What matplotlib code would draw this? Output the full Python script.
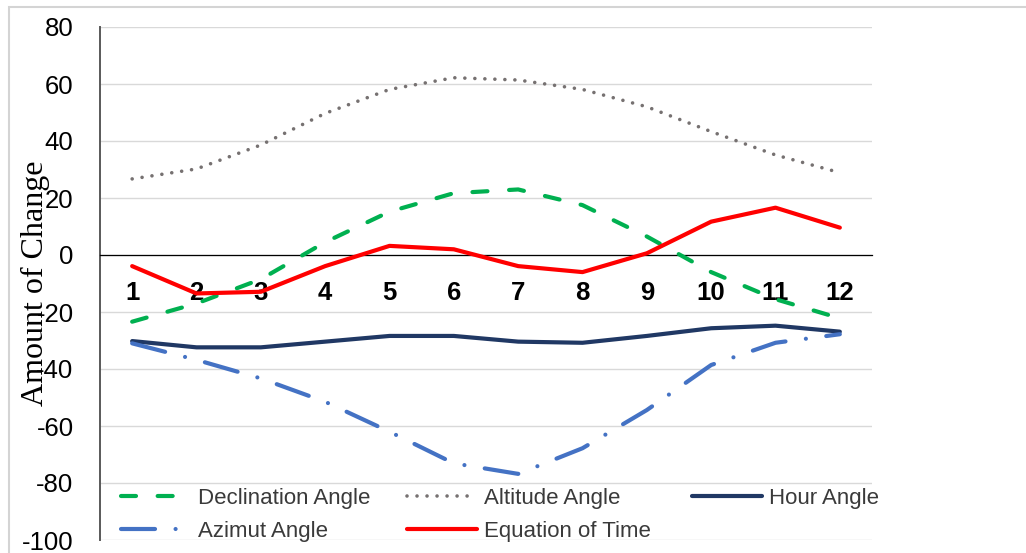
import numpy as np
import matplotlib
matplotlib.use("Agg")
import matplotlib.pyplot as plt
from matplotlib.patches import Rectangle

# Monthly values (1..12)
months = ["1", "2", "3", "4", "5", "6", "7", "8", "9", "10", "11", "12"]
declination = [-23.4, -17.0, -8.5, 4.5, 15.2, 21.7, 23.0, 17.5, 6.5, -6.0, -15.5, -22.2]
altitude = [26.7, 30.2, 38.6, 49.7, 58.1, 62.2, 61.4, 58.1, 52.0, 43.3, 35.1, 28.9]
hour_angle = [-30.2, -32.4, -32.4, -30.4, -28.4, -28.4, -30.4, -30.8, -28.4, -25.7, -24.8, -26.9]
azimut = [-31.0, -36.8, -43.3, -51.5, -62.0, -73.1, -76.8, -67.8, -54.4, -38.6, -30.8, -27.8]
equation_of_time = [-3.9, -13.5, -12.9, -3.9, 3.2, 2.0, -3.9, -6.0, 0.6, 11.7, 16.6, 9.6]

plt.rcParams["lines.scale_dashes"] = False
plt.rcParams["axes.unicode_minus"] = False
plt.rcParams["font.family"] = ["Liberation Sans", "DejaVu Sans"]

W, H = 1026, 553
fig = plt.figure(figsize=(W / 100, H / 100), dpi=100)
fig.patch.set_facecolor("white")

# outer chart frame (top/left edges visible)
fig.patches.append(Rectangle((9 / W, -0.2), 1.2, 1.2 - 7 / H,
                             transform=fig.transFigure, fill=False,
                             edgecolor="#d4d4d4", lw=1.5))

L, R, T, B = 100, 872, 27, 540
ax = fig.add_axes([L / W, 1 - B / H, (R - L) / W, (B - T) / H])

x = np.arange(1, len(months) + 1)

series = [
    ("Declination Angle", declination, "#00b050", (0, (10.8, 15.6)), 3.0),
    ("Altitude Angle", altitude, "#767171", (0, (0.01, 7.2)), 2.6),
    ("Hour Angle", hour_angle, "#203864", "solid", 3.0),
    ("Azimut Angle", azimut, "#4472c4", (0, (24.5, 14.8, 0.01, 14.8)), 3.0),
    ("Equation of Time", equation_of_time, "#ff0000", "solid", 3.0),
]

handles = {}
for name, vals, color, ls, lw in series:
    line, = ax.plot(x, vals, color=color, lw=lw, linestyle=ls,
                    solid_capstyle="round", dash_capstyle="round",
                    solid_joinstyle="round", dash_joinstyle="round",
                    zorder=3)
    handles[name] = line

ax.set_xlim(0.5, 12.5)
ax.set_ylim(-100, 80)

ax.grid(axis="y", color="#d9d9d9", lw=1.0, zorder=0)
ax.set_axisbelow(True)
for s in ("top", "right"):
    ax.spines[s].set_visible(False)
ax.spines["left"].set_color("#595959")
ax.spines["left"].set_linewidth(1.4)
ax.spines["bottom"].set_position(("data", 0))
ax.spines["bottom"].set_color("black")
ax.spines["bottom"].set_linewidth(0.9)

ax.set_yticks(np.arange(-100, 81, 20))
ax.set_xticks(x)
ax.set_xticklabels(months, fontsize=18.5, fontweight="bold", color="black")
ax.tick_params(axis="y", length=0, pad=19, labelsize=18.5, labelcolor="black")
ax.tick_params(axis="x", length=0, pad=19)

fig.text(35 / W, 1 - 283 / H, "Amount of Change", rotation=90,
         ha="center", va="center", fontsize=23,
         family=["Liberation Serif", "DejaVu Serif"], color="black")

# legend laid out in three equal-width columns
columns = [["Declination Angle", "Azimut Angle"],
           ["Altitude Angle", "Equation of Time"],
           ["Hour Angle"]]
col_x = [121, 407, 692]
for cx, names in zip(col_x, columns):
    fig.legend([handles[n] for n in names], names, loc="upper left",
               bbox_to_anchor=(cx / W, 1 - 488 / H), frameon=False,
               fontsize=16, handlelength=3.15, handletextpad=0.32,
               borderpad=0, borderaxespad=0, labelspacing=0.55,
               labelcolor="#3a3a3a")

fig.savefig("out.png", dpi=100)
